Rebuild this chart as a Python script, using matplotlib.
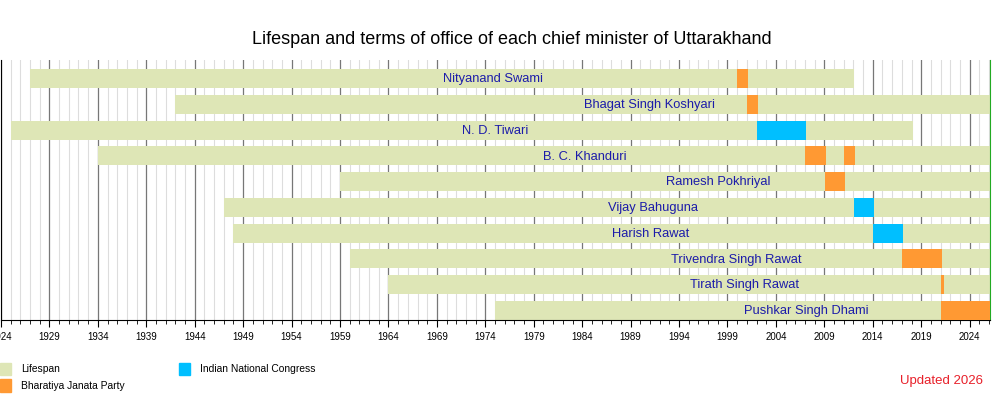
import numpy as np
import matplotlib.pyplot as plt
from matplotlib.patches import Rectangle
from matplotlib.ticker import FixedLocator, MultipleLocator

plt.rcParams['font.family'] = ['Liberation Sans', 'DejaVu Sans']

# chief ministers, top to bottom
names = ['Nityanand Swami', 'Bhagat Singh Koshyari', 'N. D. Tiwari', 'B. C. Khanduri',
         'Ramesh Pokhriyal', 'Vijay Bahuguna', 'Harish Rawat', 'Trivendra Singh Rawat',
         'Tirath Singh Rawat', 'Pushkar Singh Dhami']
born = [1927, 1942, 1925, 1934, 1959, 1947, 1948, 1960, 1964, 1975]
died = [2012.1, None, 2018.1, None, None, None, None, None, None, None]

# terms of office: (row, start, end, party)
term_row = [0, 1, 2, 3, 3, 4, 5, 6, 7, 8, 9]
term_start = [2000.0, 2001.0, 2002.05, 2007.0, 2011.0, 2009.1, 2012.05, 2014.0, 2016.97, 2021.0, 2021.0]
term_end = [2001.1, 2002.1, 2007.1, 2009.15, 2012.15, 2011.1, 2014.1, 2017.1, 2021.1, 2021.3, 2026.1]
term_party = ['BJP', 'BJP', 'INC', 'BJP', 'BJP', 'BJP', 'INC', 'INC', 'BJP', 'BJP', 'BJP']

# where each name label is centred
label_at = [1974.8, 1990.9, 1975.05, 1984.3, 1998.0, 1991.3, 1991.05, 1999.9, 2000.8, 2007.1]

x_min, x_max = 1924.0, 2026.1
major_years = list(range(1924, 2025, 5))

life_col = '#dee6b6'
party_col = {'BJP': '#ff9933', 'INC': '#00bfff'}
name_col = '#1c1caa'

fig = plt.figure(figsize=(10, 4), dpi=100)
ax = fig.add_axes([0.001, 0.2, 0.989, 0.65])

bh = 0.74
for i, name in enumerate(names):
    end = died[i] if died[i] is not None else x_max
    ax.barh(i, end - born[i], left=born[i], height=bh, color=life_col, zorder=2)

for r, s, e, p in zip(term_row, term_start, term_end, term_party):
    ax.barh(r, e - s, left=s, height=bh, color=party_col[p], zorder=3)

for i, name in enumerate(names):
    ax.text(label_at[i], i + 0.03, name, ha='center', va='center',
            fontsize=9.3, color=name_col, zorder=4)

ax.set_xlim(x_min, x_max)
ax.set_ylim(9.37, -0.72)

# year gridlines
ax.xaxis.set_major_locator(FixedLocator(major_years))
ax.xaxis.set_minor_locator(MultipleLocator(1))
ax.grid(True, which='major', axis='x', color='#777777', linewidth=0.9, zorder=0)
ax.grid(True, which='minor', axis='x', color='#dddddd', linewidth=0.8, zorder=0)
ax.set_axisbelow(True)
ax.set_yticks([])
ax.tick_params(axis='x', which='major', length=5, width=0.8, labelsize=7, pad=4)
ax.tick_params(axis='x', which='minor', length=3, width=0.6)

ax.spines['top'].set_visible(False)
ax.spines['right'].set_color('#22aa22')
ax.spines['left'].set_color('black')
ax.spines['bottom'].set_color('black')

fig.text(0.512, 0.9, 'Lifespan and terms of office of each chief minister of Uttarakhand',
         ha='center', va='center', fontsize=13)

# legend
legend_items = [('Lifespan', life_col, 0.0, 0.0775),
                ('Bharatiya Janata Party', party_col['BJP'], 0.0, 0.0355),
                ('Indian National Congress', party_col['INC'], 0.179, 0.0775)]
for text, col, lx, ly in legend_items:
    fig.patches.append(Rectangle((lx, ly - 0.015), 0.011, 0.031, transform=fig.transFigure,
                                 color=col, figure=fig))
    fig.text(lx + 0.021, ly, text, ha='left', va='center', fontsize=7.4)

fig.text(0.983, 0.048, 'Updated 2026', ha='right', va='center', fontsize=9.5, color='#e8202a')

fig.savefig('out.png', dpi=100)
